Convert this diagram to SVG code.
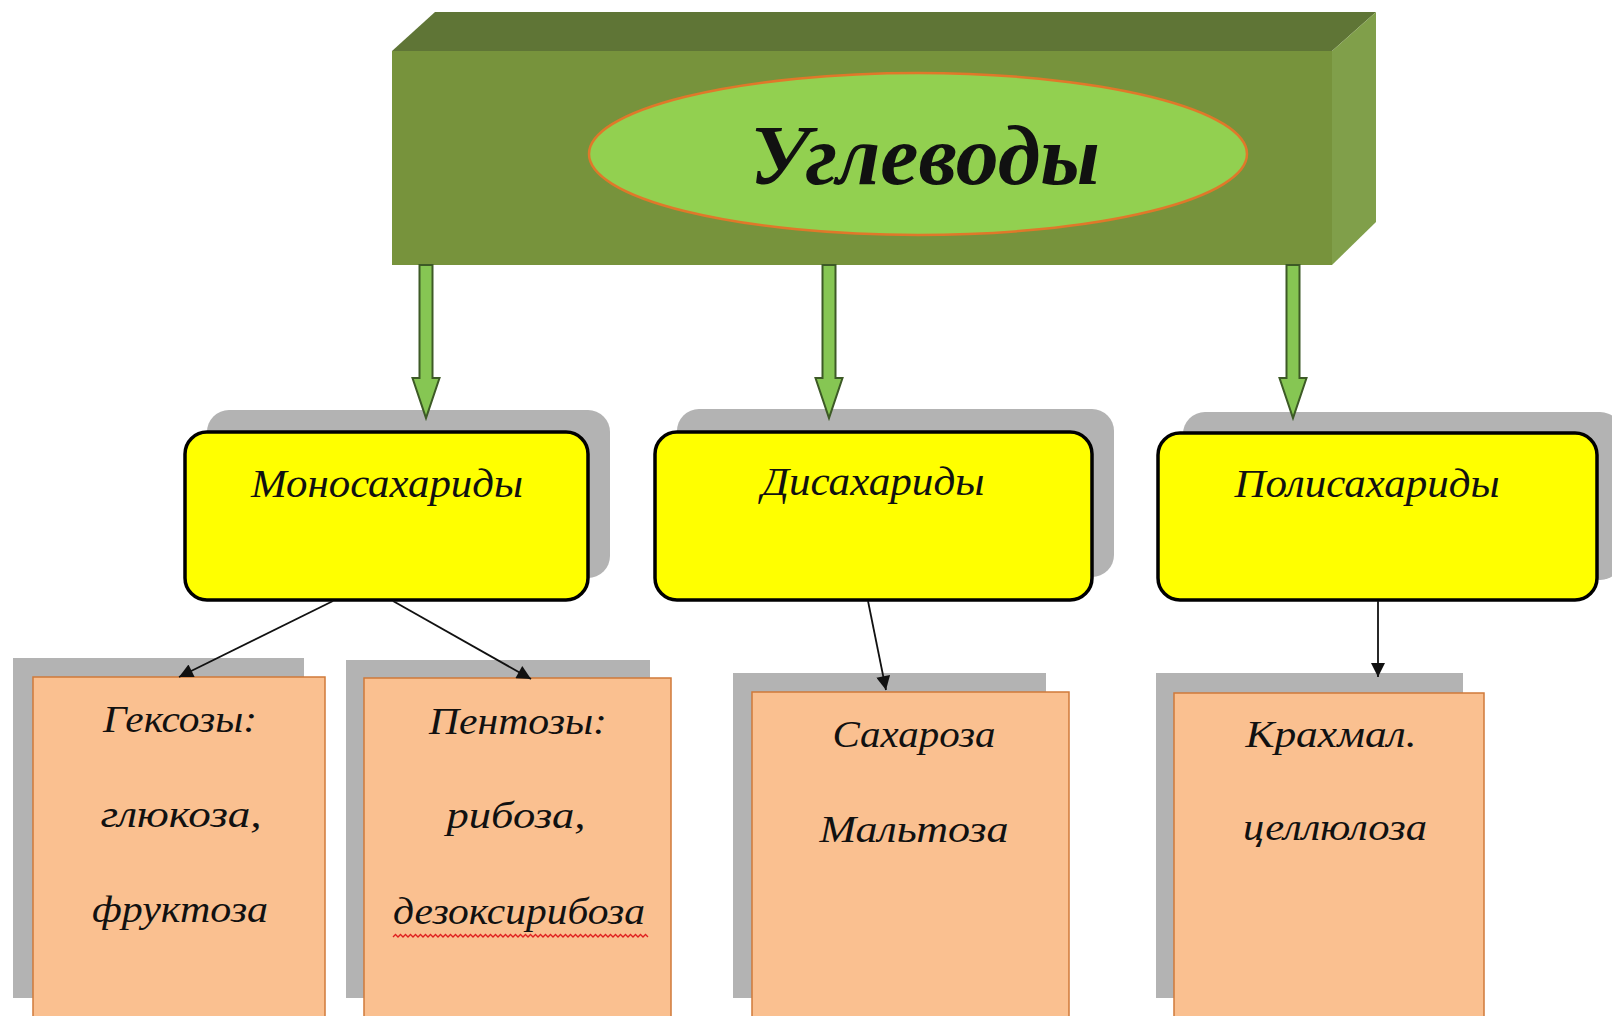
<svg xmlns="http://www.w3.org/2000/svg" width="1612" height="1016" viewBox="0 0 1612 1016">
<defs>
<style>
.shadow{fill:#b3b3b3}
.cat{fill:#ffff00;stroke:#000;stroke-width:3.5}
.leaf{fill:#fac090;stroke:#d07a3a;stroke-width:1.5}
.t{font-family:"Liberation Serif","DejaVu Serif",serif;font-style:italic;fill:#111;text-anchor:middle}
.ct{font-size:40px}
.lt{font-size:38px}
.garrow{fill:#86c653;stroke:#3d5a26;stroke-width:2}
.conn{stroke:#111;stroke-width:1.8;fill:none}
</style>
<marker id="ah" viewBox="0 0 10 10" refX="10" refY="5" markerUnits="userSpaceOnUse" markerWidth="18" markerHeight="14" orient="auto">
<path d="M0,0 L10,5 L0,10 z" fill="#111"/>
</marker>
</defs>
<rect width="1612" height="1016" fill="#ffffff"/>

<g id="root">
<polygon points="392,51 435,12 1376,12 1332,51" fill="#5f7536"/>
<polygon points="1332,51 1376,12 1376,222 1332,265" fill="#809f4a"/>
<rect x="392" y="51" width="940" height="214" fill="#77933c"/>
<ellipse cx="918" cy="154" rx="329" ry="81" fill="#92d050" stroke="#e0782a" stroke-width="2.5"/>
<text class="t" x="925" y="184" font-size="84" font-weight="bold" textLength="350" lengthAdjust="spacingAndGlyphs">Углеводы</text>
</g>

<g id="mono">
<rect class="shadow" x="207" y="410" width="403" height="168" rx="22"/>
<rect class="cat" x="185" y="432" width="403" height="168" rx="22"/>
<text class="t ct" x="387" y="497" textLength="272" lengthAdjust="spacingAndGlyphs">Моносахариды</text>
</g>

<g id="di">
<rect class="shadow" x="677" y="409" width="437" height="168" rx="22"/>
<rect class="cat" x="655" y="432" width="437" height="168" rx="22"/>
<text class="t ct" x="873" y="495" textLength="223" lengthAdjust="spacingAndGlyphs">Дисахариды</text>
</g>

<g id="poly">
<rect class="shadow" x="1183" y="412" width="439" height="168" rx="22"/>
<rect class="cat" x="1158" y="433" width="439" height="167" rx="22"/>
<text class="t ct" x="1367" y="497" textLength="265" lengthAdjust="spacingAndGlyphs">Полисахариды</text>
</g>

<g id="hex">
<rect class="shadow" x="13" y="658" width="291" height="340"/>
<rect class="leaf" x="33" y="677" width="292" height="360"/>
<text class="t lt" x="180" y="732" textLength="154" lengthAdjust="spacingAndGlyphs">Гексозы:</text>
<text class="t lt" x="181" y="827" textLength="161" lengthAdjust="spacingAndGlyphs">глюкоза,</text>
<text class="t lt" x="180" y="922" textLength="176" lengthAdjust="spacingAndGlyphs">фруктоза</text>
</g>

<g id="pent">
<rect class="shadow" x="346" y="660" width="304" height="338"/>
<rect class="leaf" x="364" y="678" width="307" height="360"/>
<text class="t lt" x="518" y="734" textLength="178" lengthAdjust="spacingAndGlyphs">Пентозы:</text>
<text class="t lt" x="516" y="828" textLength="139" lengthAdjust="spacingAndGlyphs">рибоза,</text>
<text class="t lt" x="519" y="924" textLength="252" lengthAdjust="spacingAndGlyphs">дезоксирибоза</text>
<path d="M393,937 l2.5,-2.5 l2.5,2.5 l2.5,-2.5 l2.5,2.5 l2.5,-2.5 l2.5,2.5 l2.5,-2.5 l2.5,2.5 l2.5,-2.5 l2.5,2.5 l2.5,-2.5 l2.5,2.5 l2.5,-2.5 l2.5,2.5 l2.5,-2.5 l2.5,2.5 l2.5,-2.5 l2.5,2.5 l2.5,-2.5 l2.5,2.5 l2.5,-2.5 l2.5,2.5 l2.5,-2.5 l2.5,2.5 l2.5,-2.5 l2.5,2.5 l2.5,-2.5 l2.5,2.5 l2.5,-2.5 l2.5,2.5 l2.5,-2.5 l2.5,2.5 l2.5,-2.5 l2.5,2.5 l2.5,-2.5 l2.5,2.5 l2.5,-2.5 l2.5,2.5 l2.5,-2.5 l2.5,2.5 l2.5,-2.5 l2.5,2.5 l2.5,-2.5 l2.5,2.5 l2.5,-2.5 l2.5,2.5 l2.5,-2.5 l2.5,2.5 l2.5,-2.5 l2.5,2.5 l2.5,-2.5 l2.5,2.5 l2.5,-2.5 l2.5,2.5 l2.5,-2.5 l2.5,2.5 l2.5,-2.5 l2.5,2.5 l2.5,-2.5 l2.5,2.5 l2.5,-2.5 l2.5,2.5 l2.5,-2.5 l2.5,2.5 l2.5,-2.5 l2.5,2.5 l2.5,-2.5 l2.5,2.5 l2.5,-2.5 l2.5,2.5 l2.5,-2.5 l2.5,2.5 l2.5,-2.5 l2.5,2.5 l2.5,-2.5 l2.5,2.5 l2.5,-2.5 l2.5,2.5 l2.5,-2.5 l2.5,2.5 l2.5,-2.5 l2.5,2.5 l2.5,-2.5 l2.5,2.5 l2.5,-2.5 l2.5,2.5 l2.5,-2.5 l2.5,2.5 l2.5,-2.5 l2.5,2.5 l2.5,-2.5 l2.5,2.5 l2.5,-2.5 l2.5,2.5 l2.5,-2.5 l2.5,2.5 l2.5,-2.5 l2.5,2.5 l2.5,-2.5 l2.5,2.5 l2.5,-2.5 l2.5,2.5" fill="none" stroke="#e02020" stroke-width="1.3"/>
</g>

<g id="sach">
<rect class="shadow" x="733" y="673" width="313" height="325"/>
<rect class="leaf" x="752" y="692" width="317" height="346"/>
<text class="t lt" x="914" y="747" textLength="163" lengthAdjust="spacingAndGlyphs">Сахароза</text>
<text class="t lt" x="914" y="842" textLength="189" lengthAdjust="spacingAndGlyphs">Мальтоза</text>
</g>

<g id="krakh">
<rect class="shadow" x="1156" y="673" width="307" height="325"/>
<rect class="leaf" x="1174" y="693" width="310" height="345"/>
<text class="t lt" x="1331" y="747" textLength="171" lengthAdjust="spacingAndGlyphs">Крахмал.</text>
<text class="t lt" x="1335" y="840" textLength="184" lengthAdjust="spacingAndGlyphs">целлюлоза</text>
</g>

<g id="connectors">
<polygon class="garrow" points="419.5,265 432.5,265 432.5,378 439.5,378 426,418 412.5,378 419.5,378"/>
<polygon class="garrow" points="822.5,265 835.5,265 835.5,378 842.5,378 829,418 815.5,378 822.5,378"/>
<polygon class="garrow" points="1286.5,265 1299.5,265 1299.5,378 1306.5,378 1293,418 1279.5,378 1286.5,378"/>
<line class="conn" x1="333" y1="601" x2="179" y2="677" marker-end="url(#ah)"/>
<line class="conn" x1="393" y1="601" x2="531" y2="679" marker-end="url(#ah)"/>
<line class="conn" x1="868" y1="601" x2="886" y2="690" marker-end="url(#ah)"/>
<line class="conn" x1="1378" y1="601" x2="1378" y2="677" marker-end="url(#ah)"/>
</g>
</svg>
